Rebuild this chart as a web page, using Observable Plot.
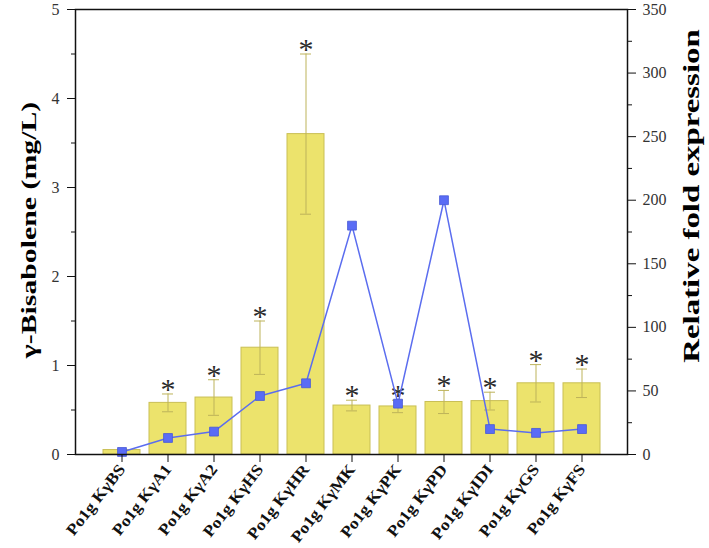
<!DOCTYPE html>
<html>
<head>
<meta charset="utf-8">
<script src="https://cdn.jsdelivr.net/npm/d3@7"></script>
<script src="https://cdn.jsdelivr.net/npm/@observablehq/plot@0.6"></script>
<style>
  html, body { margin: 0; padding: 0; background: #fff; }
  #chart svg { display: block; }
</style>
</head>
<body>
<div id="chart"></div>
<script>
// ---- data ----
const categories = ["Po1g KγBS", "Po1g KγA1", "Po1g KγA2", "Po1g KγHS", "Po1g KγHR", "Po1g KγMK", "Po1g KγPK", "Po1g KγPD", "Po1g KγIDI", "Po1g KγGS", "Po1g KγFS"];
const titer = [0.05, 0.58, 0.64, 1.2, 3.6, 0.55, 0.54, 0.59, 0.6, 0.8, 0.8];      // γ-Bisabolene (mg/L)
const titerErr = [0, 0.1, 0.2, 0.3, 0.9, 0.06, 0.07, 0.13, 0.1, 0.21, 0.16];
const fold = [2, 13, 18, 46, 56, 180, 40, 200, 20, 17, 20];                      // Relative fold expression
const significant = [false, true, true, true, true, true, true, true, true, true, true];
const leftTicks = [0, 1, 2, 3, 4, 5];
const leftMinor = [0.5, 1.5, 2.5, 3.5, 4.5];
const rightTicks = [0, 50, 100, 150, 200, 250, 300, 350];
const rightMinor = [25, 75, 125, 175, 225, 275, 325];
const leftTitle = "γ-Bisabolene (mg/L)";
const rightTitle = "Relative fold expression";

const ratio = 350 / 5; // right axis units per left axis unit

const rows = categories.map((c, i) => ({
  cat: c, titer: titer[i], err: titerErr[i], fold: fold[i], sig: significant[i]
}));

const serif = "'Liberation Serif', 'Times New Roman', serif";
const axisColor = "#333";

const chart = Plot.plot({
  width: 709,
  height: 548,
  marginLeft: 75,
  marginRight: 82,
  marginTop: 9,
  marginBottom: 94,
  style: { background: "#fff", fontFamily: serif },
  x: { type: "band", domain: categories, paddingInner: 0.2, paddingOuter: 0.6 },
  y: { domain: [0, 5] },
  marks: [
    Plot.barY(rows, { x: "cat", y: "titer", fill: "#ECE36C", stroke: "#C9BF55", strokeWidth: 1 }),
    Plot.ruleX(rows.filter(d => d.err > 0), { x: "cat", y1: d => d.titer - d.err, y2: d => d.titer + d.err, stroke: "#BDB35A", strokeWidth: 1 }),
    Plot.tickY(rows.filter(d => d.err > 0), { x: "cat", y: d => d.titer + d.err, stroke: "#BDB35A", strokeWidth: 1, insetLeft: 13, insetRight: 13 }),
    Plot.tickY(rows.filter(d => d.err > 0), { x: "cat", y: d => d.titer - d.err, stroke: "#BDB35A", strokeWidth: 1, insetLeft: 13, insetRight: 13 }),
    Plot.text(rows.filter(d => d.sig), { x: "cat", y: d => d.titer + d.err, text: () => "*", fontSize: 30, fill: "#2a2a2a", lineAnchor: "bottom", dy: 5, fontFamily: serif }),
    Plot.line(rows, { x: "cat", y: d => d.fold / ratio, stroke: "#5B6DEF", strokeWidth: 1.5 }),
    Plot.dot(rows, { x: "cat", y: d => d.fold / ratio, symbol: "square", r: 5, fill: "#5A6CF5", stroke: "#4759D6", strokeWidth: 0.8 }),
    Plot.frame({ stroke: "#111", strokeWidth: 1.5 }),
    Plot.axisX({ anchor: "bottom", tickSize: 8, tickRotate: -52, tickPadding: 4, fontSize: 16, fontWeight: "bold", fontFamily: serif, fill: "#111", stroke: "#111", label: null }),
    Plot.axisY({ anchor: "left", ticks: leftTicks, tickSize: 8, tickPadding: 8, fontSize: 16, fill: axisColor, stroke: "#111", label: null, tickFormat: d => d }),
    Plot.axisY({ anchor: "left", ticks: leftMinor, tickSize: 4, tickFormat: () => "", stroke: "#111", label: null }),
    Plot.axisY({ anchor: "right", ticks: rightTicks.map(v => v / ratio), tickSize: 8, tickPadding: 7, fontSize: 16, fill: axisColor, stroke: "#111", label: null, tickFormat: d => Math.round(d * ratio) }),
    Plot.axisY({ anchor: "right", ticks: rightMinor.map(v => v / ratio), tickSize: 4, tickFormat: () => "", stroke: "#111", label: null }),
    Plot.text([leftTitle], { frameAnchor: "left", text: d => d, textAnchor: "middle", dx: -46, dy: -2, rotate: -90, fontSize: 21, fontWeight: "bold", fill: "#000", fontFamily: serif }),
    Plot.text([rightTitle], { frameAnchor: "right", text: d => d, textAnchor: "middle", dx: 64, dy: -36, rotate: -90, fontSize: 23, fontWeight: "bold", fill: "#000", fontFamily: serif })
  ]
});

document.getElementById("chart").appendChild(chart);

// stretch text along its reading direction, as the reference's lettering is
function stretch(el, k) {
  const tr = el.getAttribute("transform") || "";
  el.setAttribute("transform", tr + ` scale(${k},1)`);
}
d3.select(chart).selectAll("text").each(function () {
  const t = this.textContent;
  if (t === leftTitle) stretch(this, 1.42);
  else if (t === rightTitle) stretch(this, 1.43);
  else if (categories.includes(t)) stretch(this, 1.1);
});
</script>
</body>
</html>
